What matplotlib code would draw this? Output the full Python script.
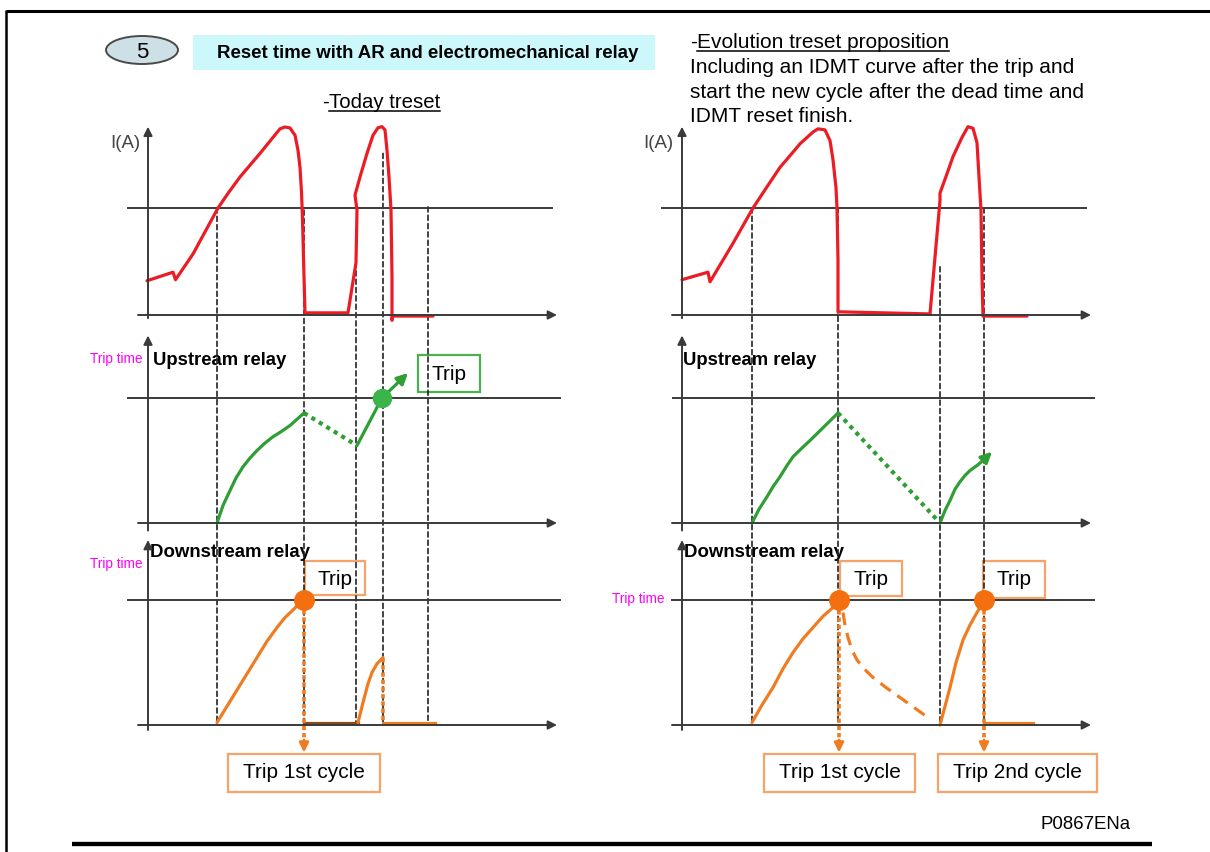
import matplotlib.pyplot as plt
from matplotlib.patches import Rectangle, Ellipse, ConnectionPatch

plt.rcParams['font.family'] = ['Liberation Sans', 'DejaVu Sans']

W, H = 1210, 852

# ---------------- data: time units, level 1.0 = threshold / trip time ----------------
# left column: today treset
L_guide_t = [6.9, 15.6, 20.8, 23.5, 28.0]
L_guide_from = [1.0, 0.98, 0.49, 1.51, 1.01]

L_cur_t = [-0.1, 2.5, 2.75, 4.5, 7.0, 8.1, 9.2, 10.2, 11.2, 12.5, 13.2, 13.7, 14.2, 14.7, 15.0,
           15.2, 15.35, 15.45, 15.6, 15.7, 20.0, 20.8, 20.9, 20.7, 21.2, 21.9, 22.5, 23.0, 23.4,
           23.7, 23.9, 24.1, 24.3, 24.4, 24.4, 24.45, 28.5]
L_cur_i = [0.32, 0.40, 0.33, 0.57, 1.0, 1.15, 1.29, 1.40, 1.51, 1.66, 1.74, 1.757, 1.748, 1.68, 1.54,
           1.38, 1.15, 0.90, 0.36, 0.02, 0.02, 0.49, 0.98, 1.12, 1.29, 1.51, 1.68, 1.75, 1.76,
           1.73, 1.54, 1.29, 0.98, 0.36, -0.05, -0.01, -0.01]

L_up_t = [6.9, 7.5, 8.2, 8.8, 9.5, 10.2, 10.9, 11.7, 12.5, 13.3, 14.2, 15.6]
L_up_v = [0.0, 0.14, 0.26, 0.36, 0.45, 0.52, 0.58, 0.64, 0.69, 0.73, 0.78, 0.88]
L_up_reset_t = [15.6, 20.9]
L_up_reset_v = [0.88, 0.62]
L_up_resume_t = [20.9, 23.4]
L_up_resume_v = [0.62, 1.0]
L_up_arrow_t = [23.4, 26.0]
L_up_arrow_v = [1.0, 1.2]

L_dn_t = [6.9, 7.9, 8.9, 9.9, 10.9, 11.9, 12.9, 13.7, 14.5, 15.1, 15.6]
L_dn_v = [0.02, 0.15, 0.28, 0.41, 0.54, 0.67, 0.78, 0.86, 0.92, 0.97, 1.0]
L_dn_flat1_t = [15.6, 21.0]
L_dn_rise2_t = [21.0, 21.5, 22.0, 22.4, 22.9, 23.5]
L_dn_rise2_v = [0.02, 0.18, 0.33, 0.42, 0.49, 0.54]
L_dn_flat2_t = [23.5, 28.7]
L_trip_t = [15.6]

# right column: evolution treset proposition
R_guide_t = [7.0, 15.6, 25.8, 30.2]
R_guide_from = [1.0, 1.0, 0.45, 1.0]

R_cur_t = [0.0, 2.6, 2.8, 5.1, 7.1, 8.3, 9.8, 10.9, 11.8, 13.1, 13.6, 14.3, 14.8, 15.1, 15.4,
           15.5, 15.6, 15.6, 24.8, 25.8, 25.8, 26.5, 27.1, 28.0, 28.6, 29.1, 29.5, 29.7,
           29.9, 30.0, 30.1, 34.5]
R_cur_i = [0.33, 0.40, 0.31, 0.67, 1.0, 1.17, 1.38, 1.50, 1.60, 1.71, 1.74, 1.73, 1.63, 1.45, 1.19,
           1.0, 0.51, 0.03, 0.01, 1.07, 1.14, 1.32, 1.48, 1.66, 1.76, 1.745, 1.61, 1.29,
           0.98, 0.36, -0.01, -0.01]

R_up_t = [7.0, 7.7, 8.5, 9.1, 9.8, 10.5, 11.1, 12.0, 12.8, 14.2, 15.6]
R_up_v = [0.0, 0.11, 0.21, 0.29, 0.37, 0.46, 0.53, 0.60, 0.66, 0.77, 0.88]
R_up_reset_t = [15.6, 25.8]
R_up_reset_v = [0.88, 0.0]
R_up_resume_t = [25.8, 26.3, 26.8, 27.3, 27.8, 28.3, 28.8, 29.5, 30.1]
R_up_resume_v = [0.0, 0.10, 0.18, 0.27, 0.33, 0.38, 0.42, 0.46, 0.50]
R_up_arrow_t = [30.1, 31.0]
R_up_arrow_v = [0.50, 0.57]

R_dn_t = [7.0, 8.0, 9.1, 10.1, 11.1, 12.1, 13.1, 14.1, 15.1, 15.7]
R_dn_v = [0.02, 0.16, 0.30, 0.45, 0.58, 0.69, 0.78, 0.87, 0.94, 1.0]
R_dn_decay_t = [16.1, 16.3, 16.6, 17.0, 17.5, 18.2, 19.1, 20.4, 21.8, 23.2, 24.6]
R_dn_decay_v = [0.90, 0.80, 0.70, 0.60, 0.52, 0.45, 0.38, 0.30, 0.22, 0.14, 0.06]
R_dn_rise2_t = [25.8, 26.3, 26.8, 27.4, 28.1, 28.8, 29.5, 30.2]
R_dn_rise2_v = [0.0, 0.15, 0.30, 0.50, 0.68, 0.80, 0.90, 0.99]
R_dn_flat_t = [30.2, 35.1]
R_trip_t = [15.7, 30.2]

# ---------------- styles ----------------
RED = '#ec1c24'
GREEN = '#2f9e35'
GREEN_DOT = '#3bb54a'
ORANGE = '#f07c22'
ORANGE_DOT = '#f36f10'
BOX_OR = '#f5a36b'
BOX_GR = '#4caf50'
AX = '#3a3a3a'
MAG = '#ff00ff'
LW = 2.3

fig = plt.figure(figsize=(W / 100, H / 100), dpi=100)
bg = fig.add_axes([0, 0, 1, 1])
bg.set_xlim(0, W)
bg.set_ylim(H, 0)
bg.axis('off')

# page frame
bg.plot([6, W], [10.5, 10.5], color='black', lw=2.2, solid_capstyle='butt')
bg.plot([6, 6], [10, H], color='black', lw=1.8, solid_capstyle='butt')
bg.plot([72, 1152], [844, 844], color='black', lw=3.1, solid_capstyle='butt')

# header
bg.add_patch(Ellipse((142, 50), 72, 28, fc='#cde0e5', ec='#4a4a4a', lw=1.4))
bg.text(142, 58, '5', fontsize=16, ha='center', va='baseline')
bg.add_patch(Rectangle((193, 35), 462, 35, fc='#ccf7fb', ec='none'))
bg.text(428, 57.5, 'Reset time with AR and electromechanical relay', fontsize=13.4,
        fontweight='bold', ha='center', va='baseline')


def underlined(x, y, head, body, size):
    t1 = bg.text(x, y, head, fontsize=size, va='baseline')
    r = fig.canvas.get_renderer()
    inv = bg.transData.inverted()
    x1 = inv.transform(t1.get_window_extent(r))[1][0]
    t2 = bg.text(x1, y, body, fontsize=size, va='baseline')
    bb = inv.transform(t2.get_window_extent(r))
    bg.plot([bb[0][0], bb[1][0]], [y + 3, y + 3], color='black', lw=1.1)


underlined(322, 108, '-', 'Today treset', 14.7)
underlined(690, 48, '-', 'Evolution treset proposition', 15)
for txt, yb in zip(['Including an IDMT curve after the trip and',
                    'start the new cycle after the dead time and',
                    'IDMT reset finish.'], [73, 98, 122]):
    bg.text(690, yb, txt, fontsize=15, va='baseline')

bg.text(1041, 829, 'P0867ENa', fontsize=13.4, va='baseline')

# panel labels
for x in (110, 643):
    bg.text(x, 148, 'I(A)', fontsize=13.4, color='#444444', va='baseline')
bg.text(143, 363, 'Trip time', fontsize=9.8, color=MAG, ha='right', va='baseline')
bg.text(143, 568, 'Trip time', fontsize=9.8, color=MAG, ha='right', va='baseline')
bg.text(665, 603, 'Trip time', fontsize=9.8, color=MAG, ha='right', va='baseline')
bg.text(153, 365, 'Upstream relay', fontsize=13.3, fontweight='bold', va='baseline')
bg.text(683, 365, 'Upstream relay', fontsize=13.3, fontweight='bold', va='baseline')
bg.text(150, 557, 'Downstream relay', fontsize=13.4, fontweight='bold', va='baseline')
bg.text(684, 557, 'Downstream relay', fontsize=13.4, fontweight='bold', va='baseline')

# annotation boxes
boxes = [((418, 355, 480, 392), BOX_GR, 'Trip', 380),
         ((305, 561, 365, 595), BOX_OR, 'Trip', 585),
         ((840, 561, 902, 596), BOX_OR, 'Trip', 585),
         ((983, 561, 1045, 598), BOX_OR, 'Trip', 585),
         ((228, 754, 380, 792), BOX_OR, 'Trip 1st cycle', 778),
         ((764, 754, 915, 792), BOX_OR, 'Trip 1st cycle', 778),
         ((938, 754, 1097, 792), BOX_OR, 'Trip 2nd cycle', 778)]
for (x0, y0, x1, y1), ec, label, yb in boxes:
    bg.add_patch(Rectangle((x0, y0), x1 - x0, y1 - y0, fc='none', ec=ec, lw=1.6))
    bg.text((x0 + x1) / 2, yb, label, fontsize=15, ha='center', va='baseline')


# ---------------- panels ----------------
def panel(x0, top, bottom, base, unit):
    ax = fig.add_axes([(x0 - 60) / W, 1 - bottom / H, 500 / W, (bottom - top) / H])
    ax.set_xlim(-6, 44)
    ax.set_ylim((base - bottom) / unit, (base - top) / unit)
    ax.axis('off')
    return ax


def arrow(ax, p0, p1, color=AX, lw=1.4, ms=13):
    ax.annotate('', xy=p1, xytext=p0,
                arrowprops=dict(arrowstyle='-|>', color=color, lw=lw, mutation_scale=ms,
                                shrinkA=0, shrinkB=0))


def frame(ax, ytop, ybot, thr0, thr1, xend=40.9):
    arrow(ax, (0, ybot), (0, ytop))
    arrow(ax, (-1.0, 0), (xend, 0))
    ax.plot([thr0, thr1], [1, 1], color=AX, lw=1.4)


def trip_arrow(ax, t):
    ax.plot([t, t], [0.98, -0.13], color=ORANGE, lw=2.6, linestyle=(0, (1.2, 0.8)))
    arrow(ax, (t, -0.12), (t, -0.22), color=ORANGE, lw=2.0, ms=14)


def column(x0, guide_t, guide_from):
    dn = panel(x0, 535, 800, 725, 125)
    up = panel(x0, 330, 535, 523, 125)
    cur = panel(x0, 118, 330, 315, 107)
    frame(cur, 1.76, -0.03, -2.0, 40.4)
    frame(up, 1.5, -0.06, -2.0 if x0 < 600 else -0.9, 41.2)
    frame(dn, 1.48, -0.04, -2.0 if x0 < 600 else -1.0, 41.2)
    for t, y0 in zip(guide_t, guide_from):
        con = ConnectionPatch(xyA=(t, y0), coordsA='data', axesA=cur,
                              xyB=(t, 0.02), coordsB='data', axesB=dn,
                              color='#222222', lw=1.2, linestyle=(0, (3, 2)), zorder=1)
        con.set_clip_on(False)
        dn.add_artist(con)
    return cur, up, dn


curve = dict(lw=LW, solid_joinstyle='round', solid_capstyle='round')

# left column
cur, up, dn = column(148, L_guide_t, L_guide_from)
cur.plot(L_cur_t, L_cur_i, color=RED, **curve)
up.plot(L_up_t, L_up_v, color=GREEN, **curve)
up.plot(L_up_reset_t, L_up_reset_v, color=GREEN, lw=3, linestyle=(0, (1, 1.1)))
up.plot(L_up_resume_t, L_up_resume_v, color=GREEN, **curve)
arrow(up, (L_up_arrow_t[0], L_up_arrow_v[0]), (L_up_arrow_t[1], L_up_arrow_v[1]),
      color=GREEN, lw=LW, ms=16)
up.plot(L_up_resume_t[-1], L_up_resume_v[-1], 'o', color=GREEN_DOT, ms=13, zorder=4)
dn.plot(L_dn_t, L_dn_v, color=ORANGE, **curve)
dn.plot(L_dn_flat1_t, [0.02, 0.02], color='#8a4a1c', lw=LW)
dn.plot(L_dn_rise2_t, L_dn_rise2_v, color=ORANGE, **curve)
dn.plot([L_dn_rise2_t[-1]] * 2, [L_dn_rise2_v[-1], 0.02], color=ORANGE, lw=2.6,
        linestyle=(0, (1.2, 0.8)))
dn.plot(L_dn_flat2_t, [0.02, 0.02], color=ORANGE, lw=LW)
for t in L_trip_t:
    trip_arrow(dn, t)
    dn.plot(t, 1.0, 'o', color=ORANGE_DOT, ms=14, zorder=4)

# right column
cur, up, dn = column(682, R_guide_t, R_guide_from)
cur.plot(R_cur_t, R_cur_i, color=RED, **curve)
up.plot(R_up_t, R_up_v, color=GREEN, **curve)
up.plot(R_up_reset_t, R_up_reset_v, color=GREEN, lw=3, linestyle=(0, (1, 1.1)))
up.plot(R_up_resume_t, R_up_resume_v, color=GREEN, **curve)
arrow(up, (R_up_arrow_t[0], R_up_arrow_v[0]), (R_up_arrow_t[1], R_up_arrow_v[1]),
      color=GREEN, lw=LW, ms=16)
dn.plot(R_dn_t, R_dn_v, color=ORANGE, **curve)
dn.plot(R_dn_decay_t, R_dn_decay_v, color=ORANGE, lw=2.3, linestyle=(0, (4, 2.5)))
dn.plot(R_dn_rise2_t, R_dn_rise2_v, color=ORANGE, **curve)
dn.plot(R_dn_flat_t, [0.02, 0.02], color=ORANGE, lw=LW)
for t in R_trip_t:
    trip_arrow(dn, t)
    dn.plot(t, 1.0, 'o', color=ORANGE_DOT, ms=14, zorder=4)

fig.savefig('out.png', dpi=100)
